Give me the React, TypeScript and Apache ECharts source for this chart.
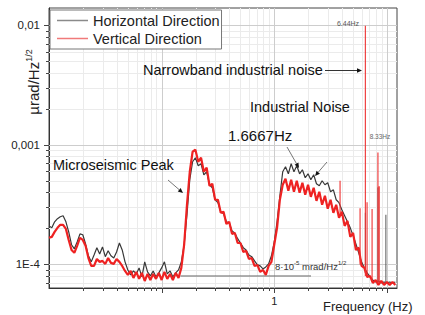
import React, { useEffect, useRef } from "react";
import * as echarts from "echarts";

// ---- data (frequency in Hz, amplitude in µrad/Hz^1/2) ----
const freqs = [
  0.01, 0.01059, 0.01122, 0.01189, 0.01259, 0.01334, 0.01413, 0.01496, 0.01585, 0.01679,
  0.01778, 0.01884, 0.01995, 0.02113, 0.02239, 0.02371, 0.02512, 0.02661, 0.02818, 0.02985,
  0.03162, 0.0335, 0.03548, 0.03758, 0.03981, 0.04217, 0.04467, 0.04732, 0.05012, 0.05309,
  0.05623, 0.05957, 0.0631, 0.06683, 0.07079, 0.07499, 0.07943, 0.08414, 0.08913, 0.09441,
  0.1, 0.1059, 0.1122, 0.1189, 0.1259, 0.1334, 0.1413, 0.1496, 0.1585, 0.1679,
  0.1778, 0.1884, 0.1995, 0.2113, 0.2239, 0.2371, 0.2512, 0.2661, 0.2818, 0.2985,
  0.3162, 0.335, 0.3548, 0.3758, 0.3981, 0.4217, 0.4467, 0.4732, 0.5012, 0.5309,
  0.5623, 0.5957, 0.631, 0.6683, 0.7079, 0.7499, 0.7943, 0.8414, 0.8913, 0.9441,
  1, 1.059, 1.122, 1.189, 1.259, 1.334, 1.413, 1.496, 1.585, 1.679,
  1.778, 1.884, 1.995, 2.113, 2.239, 2.371, 2.512, 2.661, 2.818, 2.985,
  3.162, 3.35, 3.548, 3.758, 3.981, 4.217, 4.467, 4.732, 5.012, 5.309,
  5.623, 5.957, 6.31, 6.683, 7.079, 7.499, 7.943, 8.414, 8.913, 9.441,
  10, 10.59, 11.22, 11.89,
];

const horizontal = [
  2.1e-4, 2.02e-4, 2.27e-4, 2.41e-4, 2.5e-4, 2.55e-4, 2.27e-4, 1.87e-4, 1.46e-4, 1.35e-4,
  1.54e-4, 1.8e-4, 1.77e-4, 1.48e-4, 1.18e-4, 1.05e-4, 1.2e-4, 1.38e-4, 1.22e-4, 1.4e-4,
  1.16e-4, 1.3e-4, 1.18e-4, 1.13e-4, 1.27e-4, 1.51e-4, 1.32e-4, 1.05e-4, 8.99e-5, 8.17e-5,
  8.82e-5, 8.32e-5, 9.35e-5, 7.86e-5, 1.05e-4, 8.65e-5, 8.01e-5, 8.82e-5, 7.86e-5, 8.49e-5,
  9.35e-5, 1.05e-4, 8.32e-5, 8.82e-5, 7.86e-5, 8.49e-5, 8.99e-5, 1.05e-4, 1.46e-4, 2.6e-4,
  5.1e-4, 7.21e-4, 7.79e-4, 6.68e-4, 6.94e-4, 5.61e-4, 5.95e-4, 4.63e-4, 4.37e-4, 3.47e-4,
  3.28e-4, 2.75e-4, 2.65e-4, 2.27e-4, 2.23e-4, 1.9e-4, 1.83e-4, 1.64e-4, 1.51e-4, 1.38e-4,
  1.32e-4, 1.2e-4, 1.16e-4, 1.07e-4, 9.9e-5, 9.71e-5, 9.17e-5, 9.52e-5, 1.01e-4, 1.18e-4,
  1.54e-4, 2.27e-4, 3.75e-4, 5.95e-4, 6.55e-4, 5.72e-4, 6.94e-4, 5.95e-4, 6.68e-4, 5.72e-4,
  6.18e-4, 5.3e-4, 5.72e-4, 5.1e-4, 5.61e-4, 4.72e-4, 4.54e-4, 5.0e-4, 4.63e-4, 4.81e-4,
  4.04e-4, 4.2e-4, 3.47e-4, 3.28e-4, 2.86e-4, 2.55e-4, 2.27e-4, 2.02e-4, 1.74e-4, 1.48e-4,
  1.25e-4, 1.05e-4, 9.35e-5, 8.49e-5, 7.86e-5, 7.41e-5, 7.13e-5, 7.27e-5, 7.0e-5, 7.13e-5,
  7.0e-5, 7.13e-5, 7.0e-5, 7.13e-5,
];

const vertical = [
  1.67e-4, 1.7e-4, 1.87e-4, 2.02e-4, 2.14e-4, 2.14e-4, 1.98e-4, 1.6e-4, 1.32e-4, 1.25e-4,
  1.43e-4, 1.67e-4, 1.6e-4, 1.43e-4, 1.13e-4, 9.71e-5, 9.71e-5, 1.11e-4, 1.05e-4, 1.07e-4,
  1.01e-4, 1.13e-4, 1.03e-4, 1.01e-4, 1.11e-4, 1.05e-4, 9.71e-5, 8.82e-5, 8.17e-5, 8.82e-5,
  7.71e-5, 8.65e-5, 7.57e-5, 8.49e-5, 7.27e-5, 8.32e-5, 7.41e-5, 8.32e-5, 7.57e-5, 8.49e-5,
  7.41e-5, 8.65e-5, 7.57e-5, 8.32e-5, 7.41e-5, 8.49e-5, 7.71e-5, 9.35e-5, 1.46e-4, 3.15e-4,
  5.95e-4, 8.74e-4, 9.08e-4, 7.21e-4, 7.79e-4, 5.95e-4, 6.43e-4, 4.54e-4, 4.72e-4, 3.47e-4,
  3.47e-4, 2.7e-4, 2.75e-4, 2.18e-4, 2.27e-4, 1.8e-4, 1.83e-4, 1.51e-4, 1.51e-4, 1.27e-4,
  1.3e-4, 1.11e-4, 1.13e-4, 9.71e-5, 9.9e-5, 8.65e-5, 8.99e-5, 8.17e-5, 9.71e-5, 1.05e-4,
  1.46e-4, 2.02e-4, 3.47e-4, 4.63e-4, 5.2e-4, 4.12e-4, 5.1e-4, 4.04e-4, 5.0e-4, 3.97e-4,
  4.81e-4, 3.82e-4, 4.63e-4, 3.67e-4, 4.37e-4, 3.4e-4, 4.04e-4, 3.15e-4, 3.75e-4, 2.92e-4,
  3.47e-4, 2.7e-4, 3.15e-4, 2.45e-4, 2.75e-4, 2.1e-4, 2.31e-4, 1.7e-4, 1.83e-4, 1.32e-4,
  1.38e-4, 9.71e-5, 9.35e-5, 7.86e-5, 8.01e-5, 7.0e-5, 7.41e-5, 6.73e-5, 7.27e-5, 6.73e-5,
  7.13e-5, 6.73e-5, 7.13e-5, 6.73e-5,
];

// narrow-band spikes: frequency, foot value (on the curve), peak value
const hSpikeFreqs = [6.44, 8.33, 9.8];
const hSpikeBase = [8.5e-5, 7.1e-5, 7.1e-5];
const hSpikeVals = [2.7e-4, 4.4e-4, 2.6e-4];
const vSpikeFreqs = [3.84, 5.78, 6.44, 6.67, 7.39, 8.33, 8.55];
const vSpikeBase = [2.6e-4, 1.0e-4, 8.0e-5, 7.8e-5, 7.2e-5, 7.0e-5, 7.0e-5];
const vSpikeVals = [5.0e-4, 2.95e-4, 9.9e-3, 3.3e-4, 2.9e-4, 8.6e-4, 4.5e-4];

// noise floor reference line
const noiseFloorValue = 8e-5;
const noiseFloorFreqs = [0.147, 2.12];

// axes
const xMin = 0.01;
const xMax = 12.3;
const yMin = 6.35e-5;
const yMax = 0.0139;
const xMajorTicks = [0.1, 1, 10];
const xMinorTicks = [
  0.02, 0.03, 0.04, 0.05, 0.06, 0.07, 0.08, 0.09,
  0.2, 0.3, 0.4, 0.5, 0.6, 0.7, 0.8, 0.9,
  2, 3, 4, 5, 6, 7, 8, 9,
];
const yMajorTicks = [1e-4, 1e-3, 1e-2];
const yMinorTicks = [
  7e-5, 8e-5, 9e-5,
  2e-4, 3e-4, 4e-4, 5e-4, 6e-4, 7e-4, 8e-4, 9e-4,
  2e-3, 3e-3, 4e-3, 5e-3, 6e-3, 7e-3, 8e-3, 9e-3,
];
const xLabelValues = [1];
const xLabelTexts = ["1"];
const yLabelValues = [1e-4, 1e-3, 1e-2];
const yLabelTexts = ["1E-4", "0,001", "0,01"];

const seriesNames = ["Horizontal Direction", "Vertical Direction"];

const FONT = "'Liberation Sans', Arial, sans-serif";

function pairs(fs: number[], vs: number[]) {
  return fs.map((f, i) => [f, vs[i]]);
}

function spikeData(fs: number[], base: number[], peak: number[]) {
  const out: any[] = [];
  fs.forEach((f, i) => {
    out.push([f, base[i]]);
    out.push([f, peak[i]]);
    out.push("-");
  });
  return out;
}

function labelFor(v: number, values: number[], texts: string[]) {
  for (let i = 0; i < values.length; i++) {
    if (Math.abs(Math.log10(v) - Math.log10(values[i])) < 1e-6) return texts[i];
  }
  return "";
}

function gridSeries(vals: number[], major: boolean, dir: "x" | "y") {
  return {
    type: "custom",
    silent: true,
    clip: false,
    z: 1,
    data: vals.map((v) => (dir === "x" ? [v, 1e-3] : [1, v])),
    encode: { x: 0, y: 1 },
    renderItem: (params: any, api: any) => {
      const cs = params.coordSys;
      const p = api.coord([api.value(0), api.value(1)]);
      const gridColor = major ? "#cdcdcd" : "#ebebeb";
      const tickLen = major ? 5 : 3;
      if (dir === "x") {
        const x = Math.round(p[0]) + 0.5;
        return {
          type: "group",
          children: [
            { type: "line", shape: { x1: x, y1: cs.y, x2: x, y2: cs.y + cs.height }, style: { stroke: gridColor, lineWidth: 1 } },
            { type: "line", shape: { x1: x, y1: cs.y + cs.height, x2: x, y2: cs.y + cs.height + tickLen }, style: { stroke: "#444", lineWidth: 1 } },
          ],
        };
      }
      const y = Math.round(p[1]) + 0.5;
      return {
        type: "group",
        children: [
          { type: "line", shape: { x1: cs.x, y1: y, x2: cs.x + cs.width, y2: y }, style: { stroke: gridColor, lineWidth: 1 } },
          { type: "line", shape: { x1: cs.x - tickLen, y1: y, x2: cs.x, y2: y }, style: { stroke: "#444", lineWidth: 1 } },
        ],
      };
    },
  };
}

function arrow(x1: number, y1: number, x2: number, y2: number, lineColor: string, headColor: string) {
  const ang = Math.atan2(y2 - y1, x2 - x1);
  const L = 5;
  const W = 2.2;
  const bx = x2 - L * Math.cos(ang);
  const by = y2 - L * Math.sin(ang);
  const px = -Math.sin(ang) * W;
  const py = Math.cos(ang) * W;
  return [
    { type: "line", z: 100, shape: { x1, y1, x2: bx, y2: by }, style: { stroke: lineColor, lineWidth: 1 } },
    { type: "polygon", z: 100, shape: { points: [[x2, y2], [bx + px, by + py], [bx - px, by - py]] }, style: { fill: headColor } },
  ];
}

function txt(x: number, y: number, text: string, fontSize: number, extra: any = {}) {
  return {
    type: "text",
    z: 100,
    x,
    y,
    style: {
      text,
      fontSize,
      fontFamily: FONT,
      fill: extra.fill || "#111",
      align: extra.align || "left",
      verticalAlign: "middle",
      rich: extra.rich,
    },
    rotation: extra.rotation || 0,
  };
}

export default function App() {
  const ref = useRef<HTMLDivElement>(null);

  useEffect(() => {
    document.body.style.margin = "0";
    if (!ref.current) return;
    const chart = echarts.init(ref.current, undefined, { renderer: "svg" });

    const lineBase = { type: "line", showSymbol: false, symbol: "none", silent: true };

    const option: any = {
      animation: false,
      backgroundColor: "#fff",
      textStyle: { fontFamily: FONT },
      grid: {
        left: 49,
        top: 8,
        width: 348,
        height: 280,
        show: true,
        borderColor: "#444",
        borderWidth: 1,
        backgroundColor: "#fff",
      },
      legend: {
        orient: "vertical",
        left: 50,
        top: 10,
        padding: [2, 2, 2, 7],
        itemGap: 1,
        itemWidth: 31,
        itemHeight: 1.5,
        icon: "rect",
        backgroundColor: "#fff",
        borderColor: "#777",
        borderWidth: 1,
        borderRadius: 0,
        selectedMode: false,
        textStyle: { fontSize: 14.5, color: "#222", lineHeight: 17, fontFamily: FONT },
        data: [
          { name: seriesNames[0], itemStyle: { color: "#8a8a8a" } },
          { name: seriesNames[1], itemStyle: { color: "#f07a7a" } },
        ],
      },
      xAxis: {
        type: "log",
        logBase: 10,
        min: xMin,
        max: xMax,
        axisLine: { show: true, lineStyle: { color: "#333", width: 1 } },
        axisTick: { show: false },
        splitLine: { show: false },
        axisLabel: {
          margin: 7,
          fontSize: 11,
          color: "#222",
          fontFamily: FONT,
          formatter: (v: number) => labelFor(v, xLabelValues, xLabelTexts),
        },
      },
      yAxis: {
        type: "log",
        logBase: 10,
        min: yMin,
        max: yMax,
        axisLine: { show: true, lineStyle: { color: "#333", width: 1 } },
        axisTick: { show: false },
        splitLine: { show: false },
        axisLabel: {
          margin: 9,
          fontSize: 11.5,
          color: "#222",
          fontFamily: FONT,
          formatter: (v: number) => labelFor(v, yLabelValues, yLabelTexts),
        },
      },
      series: [
        gridSeries(xMinorTicks, false, "x"),
        gridSeries(yMinorTicks, false, "y"),
        gridSeries(xMajorTicks, true, "x"),
        gridSeries(yMajorTicks, true, "y"),
        {
          ...lineBase,
          name: "noiseFloor",
          z: 2,
          data: pairs(noiseFloorFreqs, [noiseFloorValue, noiseFloorValue]),
          lineStyle: { color: "#666", width: 1 },
        },
        {
          ...lineBase,
          name: seriesNames[0],
          z: 3,
          data: pairs(freqs, horizontal),
          lineStyle: { color: "#383838", width: 1.2 },
          itemStyle: { color: "#8a8a8a" },
        },
        {
          ...lineBase,
          name: "hSpikes",
          z: 3,
          connectNulls: false,
          data: spikeData(hSpikeFreqs, hSpikeBase, hSpikeVals),
          lineStyle: { color: "#555", width: 1 },
        },
        {
          ...lineBase,
          name: seriesNames[1],
          z: 4,
          data: pairs(freqs, vertical),
          lineStyle: { color: "#ee2222", width: 2.2 },
          itemStyle: { color: "#f07a7a" },
        },
        {
          ...lineBase,
          name: "vSpikes",
          z: 4,
          connectNulls: false,
          data: spikeData(vSpikeFreqs, vSpikeBase, vSpikeVals),
          lineStyle: { color: "#ee3030", width: 1.1 },
        },
      ],
      graphic: [
        txt(143, 70, "Narrowband industrial noise", 14.5),
        ...arrow(325, 70.5, 362, 70.5, "#333", "#111"),
        txt(250, 107, "Industrial Noise", 14.5),
        txt(228, 135, "1.6667Hz", 15),
        ...arrow(287, 147, 299, 168, "#777", "#111"),
        ...arrow(327, 162, 315, 176, "#777", "#111"),
        txt(53, 165, "Microseismic Peak", 14.5),
        ...arrow(168, 180, 183, 193, "#777", "#111"),
        txt(348, 23, "6.44Hz", 7, { align: "center", fill: "#555" }),
        txt(380, 136, "8.33Hz", 6.5, { align: "center", fill: "#666" }),
        txt(275, 266, "{m|8·10}{s|-5}{m| mrad/Hz}{s|1/2}", 9.5, {
          rich: {
            m: { fontSize: 9.5, lineHeight: 12, fontFamily: FONT, fill: "#333" },
            s: { fontSize: 6, lineHeight: 6, verticalAlign: "top", fontFamily: FONT, fill: "#333" },
          },
        }),
        txt(323, 306, "Frequency (Hz)", 13, { fill: "#222" }),
        txt(33, 82, "{m|µrad/Hz}{s|1/2}", 15, {
          align: "center",
          rotation: Math.PI / 2,
          rich: {
            m: { fontSize: 15, lineHeight: 18, fontFamily: FONT, fill: "#222" },
            s: { fontSize: 9, lineHeight: 9, verticalAlign: "top", fontFamily: FONT, fill: "#222" },
          },
        }),
      ],
    };

    chart.setOption(option);
    return () => chart.dispose();
  }, []);

  return <div ref={ref} style={{ width: 425, height: 315 }} />;
}
